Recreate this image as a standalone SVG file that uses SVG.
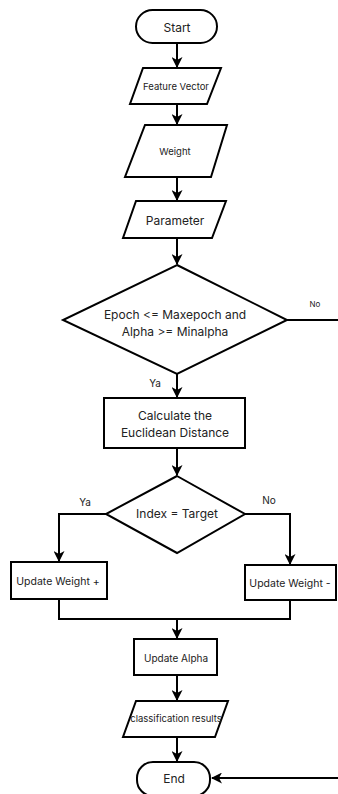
<svg xmlns="http://www.w3.org/2000/svg" width="338" height="794" viewBox="0 0 338 794">
<defs>
<marker id="ah" markerWidth="11" markerHeight="11" refX="10" refY="5.5" orient="auto" markerUnits="userSpaceOnUse">
<path d="M0,0 L11,5.5 L0,11 L3,5.5 Z" fill="#000"/>
</marker>
<style>
.s{fill:#fff;stroke:#000;stroke-width:2}
.c{fill:none;stroke:#000;stroke-width:2}
text{font-family:Inter,Roboto,"Liberation Sans",sans-serif;fill:#222;text-anchor:middle;dominant-baseline:central}
.f12{font-size:12px}
.f9{font-size:9.5px}
.f10{font-size:10px}
.f105{font-size:10.5px}
.f8{font-size:8px}
</style>
</defs>
<rect width="338" height="794" fill="#fff"/>
<g id="connectors">
<line class="c" x1="177" y1="43" x2="177" y2="67" marker-end="url(#ah)"/>
<line class="c" x1="177" y1="104" x2="177" y2="124" marker-end="url(#ah)"/>
<line class="c" x1="177" y1="177" x2="177" y2="200" marker-end="url(#ah)"/>
<line class="c" x1="177" y1="238" x2="177" y2="264" marker-end="url(#ah)"/>
<line class="c" x1="287" y1="320" x2="338" y2="320"/>
<text class="f8" x="315" y="304">No</text>
<line class="c" x1="177" y1="374" x2="177" y2="397" marker-end="url(#ah)"/>
<text class="f10" x="155" y="383">Ya</text>
<line class="c" x1="177" y1="448" x2="177" y2="475" marker-end="url(#ah)"/>
<polyline class="c" points="106,514 59,514 59,561" marker-end="url(#ah)"/>
<text class="f10" x="85" y="502">Ya</text>
<polyline class="c" points="245,514 290,514 290,564" marker-end="url(#ah)"/>
<text class="f10" x="269" y="500">No</text>
<polyline class="c" points="59,599 59,619 290,619 290,600"/>
<line class="c" x1="177" y1="619" x2="177" y2="638" marker-end="url(#ah)"/>
<line class="c" x1="177" y1="675" x2="177" y2="700" marker-end="url(#ah)"/>
<line class="c" x1="177" y1="737" x2="177" y2="761" marker-end="url(#ah)"/>
<line class="c" x1="338" y1="778" x2="212" y2="778" marker-end="url(#ah)"/>
</g>
<g id="start">
<rect class="s" x="136" y="10" width="81" height="33" rx="16.5"/>
<text class="f12" x="177" y="27">Start</text>
</g>
<g id="feature-vector">
<polygon class="s" points="143,68 221,68 207,104 130,104"/>
<text class="f9" x="176" y="86">Feature Vector</text>
</g>
<g id="weight">
<polygon class="s" points="145,125 227,125 211,177 125,177"/>
<text class="f9" x="175" y="151">Weight</text>
</g>
<g id="parameter">
<polygon class="s" points="136,201 226,201 212,238 123,238"/>
<text class="f12" x="175" y="220">Parameter</text>
</g>
<g id="decision-epoch">
<polygon class="s" points="177,265 287,320 177,374 63,320"/>
<text class="f12" x="175" y="314">Epoch &lt;= Maxepoch and</text>
<text class="f12" x="175" y="331">Alpha &gt;= Minalpha</text>
</g>
<g id="euclidean">
<rect class="s" x="104" y="398" width="141" height="50"/>
<text class="f12" x="175" y="415">Calculate the</text>
<text class="f12" x="175" y="432">Euclidean Distance</text>
</g>
<g id="decision-index">
<polygon class="s" points="177,476 245,514 177,553 106,514"/>
<text class="f12" x="177" y="513">Index = Target</text>
</g>
<g id="update-plus">
<rect class="s" x="11" y="562" width="96" height="37"/>
<text class="f105" x="58" y="581">Update Weight +</text>
</g>
<g id="update-minus">
<rect class="s" x="245" y="565" width="91" height="35"/>
<text class="f105" x="290" y="583">Update Weight -</text>
</g>
<g id="update-alpha">
<rect class="s" x="134" y="639" width="83" height="36"/>
<text class="f10" x="176" y="658">Update Alpha</text>
</g>
<g id="classification">
<polygon class="s" points="136,701 228,701 215,737 123,737"/>
<text class="f9" x="176" y="718">classification results</text>
</g>
<g id="end">
<rect class="s" x="137" y="762" width="73" height="34" rx="16"/>
<text class="f12" x="174" y="778">End</text>
</g>
</svg>
